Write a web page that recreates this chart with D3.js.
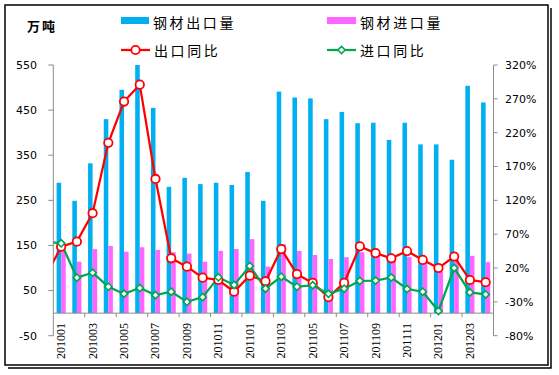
<!DOCTYPE html>
<html>
<head>
<meta charset="utf-8">
<script src="https://cdn.jsdelivr.net/npm/d3@7/dist/d3.min.js"></script>
<style>
  html, body { margin: 0; padding: 0; background: #fff; }
  svg { display: block; }
</style>
</head>
<body>
<svg id="chart" width="559" height="375"></svg>
<script>
// ---- data ----
const categories = ["201001","201002","201003","201004","201005","201006","201007","201008","201009","201010","201011","201012",
                    "201101","201102","201103","201104","201105","201106","201107","201108","201109","201110","201111","201112",
                    "201201","201202","201203","201204"];
const exportVolume = [289,249,332,430,495,550,455,280,300,286,289,284,313,249,491,478,476,430,446,421,422,384,422,374,374,340,504,467];
const importVolume = [140,114,142,149,136,146,140,135,132,114,138,142,164,103,153,138,129,120,124,135,131,125,124,114,92,118,127,113];
const exportYoY = [51.5,59,101,205,266,291,151.6,34.4,22,5.8,2.3,-15,8.7,0.4,48,11,-2,-23,-2,52,42,34.4,45,32,20,37,2.3,-1];
const importYoY = [56.5,5.8,13,-7.6,-18,-9.5,-20,-15,-30,-23,6.3,-5,23,-10.5,7.2,-7.6,-5.5,-18,-10.5,1,1.5,6,-11,-15,-43.5,20,-16,-19];
const exportYoYPrev = 7;     // value before the first shown month (line enters from left edge)
const importYoYPrev = 59.5;
const leftTicks = [-50,50,150,250,350,450,550];
const rightTicks = [-80,-30,20,70,120,170,220,270,320];
const labels = {
  unit: "万吨",
  exportVol: "钢材出口量",
  importVol: "钢材进口量",
  exportYoY: "出口同比",
  importYoY: "进口同比"
};

// ---- layout ----
const svg = d3.select("#chart");
const plotL = 53.3, plotR = 493.5, plotT = 65, plotB = 335.7;
const colors = { blue: "#00B0F0", pink: "#FF66FF", red: "#FF0000", green: "#00A650", axis: "#8C8C8C" };

const x = d3.scaleBand().domain(categories).range([plotL, plotR]).paddingInner(0).paddingOuter(0);
const step = x.bandwidth();
const yL = d3.scaleLinear().domain([-50, 550]).range([plotB, plotT]);
const yR = d3.scaleLinear().domain([-80, 320]).range([plotB, plotT]);
const cx = c => x(c) + step / 2;
const barW = step * 0.29;

// frame
svg.append("rect").attr("x", 0).attr("y", 0).attr("width", 559).attr("height", 375).attr("fill", "#fff");
svg.append("rect").attr("x", 5).attr("y", 5).attr("width", 543).attr("height", 360)
  .attr("fill", "none").attr("stroke", "#000").attr("stroke-width", 1.5);
svg.append("path").attr("d", "M551,8 V368 H8").attr("fill", "none").attr("stroke", "#000").attr("stroke-width", 1.5);

// clip
svg.append("clipPath").attr("id", "plotclip").append("rect")
  .attr("x", plotL).attr("y", plotT - 10).attr("width", plotR - plotL).attr("height", plotB - plotT + 20);

const y0 = yL(0);

// bars
const g = svg.append("g");
g.selectAll("rect.exp").data(categories).join("rect")
  .attr("x", (c) => cx(c) - barW)
  .attr("y", (c, i) => yL(exportVolume[i]))
  .attr("width", barW)
  .attr("height", (c, i) => y0 - yL(exportVolume[i]))
  .attr("fill", colors.blue);
g.selectAll("rect.imp").data(categories).join("rect")
  .attr("x", (c) => cx(c))
  .attr("y", (c, i) => yL(importVolume[i]))
  .attr("width", barW)
  .attr("height", (c, i) => y0 - yL(importVolume[i]))
  .attr("fill", colors.pink);

// axes
const axG = svg.append("g").attr("stroke", colors.axis).attr("stroke-width", 1).attr("fill", "none");
axG.append("line").attr("x1", plotL).attr("x2", plotL).attr("y1", plotT).attr("y2", plotB);
axG.append("line").attr("x1", plotR).attr("x2", plotR).attr("y1", plotT).attr("y2", plotB);
axG.append("line").attr("x1", plotL).attr("x2", plotR).attr("y1", y0).attr("y2", y0);
leftTicks.forEach(t => axG.append("line").attr("x1", plotL - 5).attr("x2", plotL).attr("y1", yL(t)).attr("y2", yL(t)));
rightTicks.forEach(t => axG.append("line").attr("x1", plotR).attr("x2", plotR + 4).attr("y1", yR(t)).attr("y2", yR(t)));
categories.forEach((c, i) => {
  if (i % 2 === 0 && i > 0) axG.append("line").attr("x1", x(c)).attr("x2", x(c)).attr("y1", y0).attr("y2", y0 + 4);
});

const tickFont = "'DejaVu Sans', Verdana, sans-serif";
svg.append("g").selectAll("text").data(leftTicks).join("text")
  .attr("x", 37).attr("y", d => yL(d)).attr("dy", "0.35em")
  .attr("text-anchor", "end").attr("font-family", tickFont).attr("font-size", 11).attr("fill", "#000")
  .text(d => d);
svg.append("g").selectAll("text").data(rightTicks).join("text")
  .attr("x", 505).attr("y", d => yR(d)).attr("dy", "0.35em")
  .attr("text-anchor", "start").attr("font-family", tickFont).attr("font-size", 11).attr("fill", "#000")
  .text(d => d + "%");
svg.append("g").selectAll("text").data(categories.filter((c, i) => i % 2 === 0)).join("text")
  .attr("transform", c => `translate(${cx(c) + 4},323) rotate(-90)`)
  .attr("text-anchor", "end").attr("font-family", "'Liberation Serif', 'Times New Roman', serif")
  .attr("font-size", 12).attr("fill", "#000")
  .text(c => c);

// lines
const lineG = svg.append("g").attr("clip-path", "url(#plotclip)");
function drawLine(vals, prev, color) {
  const pts = [[cx(categories[0]) - step, yR(prev)]].concat(vals.map((v, i) => [cx(categories[i]), yR(v)]));
  lineG.append("path").attr("d", d3.line()(pts)).attr("fill", "none").attr("stroke", color).attr("stroke-width", 2.25);
}
drawLine(exportYoY, exportYoYPrev, colors.red);
const mk = svg.append("g");
mk.selectAll("circle").data(exportYoY).join("circle")
  .attr("cx", (v, i) => cx(categories[i])).attr("cy", v => yR(v)).attr("r", 4.2)
  .attr("fill", "#fff").attr("stroke", colors.red).attr("stroke-width", 1.8);
drawLine(importYoY, importYoYPrev, colors.green);
const diamond = d3.symbol().type(d3.symbolDiamond2 || d3.symbolDiamond).size(34);
const mk2 = svg.append("g");
mk2.selectAll("path").data(importYoY).join("path")
  .attr("transform", (v, i) => `translate(${cx(categories[i])},${yR(v)})`)
  .attr("d", diamond)
  .attr("fill", "#fff").attr("stroke", colors.green).attr("stroke-width", 1.6);

// legend + unit
const cjk = "'Noto Sans CJK SC', sans-serif";
svg.append("text").attr("x", 27).attr("y", 31).attr("font-family", cjk).attr("font-size", 13)
  .attr("font-weight", "bold").attr("letter-spacing", 2).attr("fill", "#000").text(labels.unit);

const leg = svg.append("g").attr("font-family", cjk).attr("font-size", 14).attr("fill", "#000");
leg.append("rect").attr("x", 121).attr("y", 17).attr("width", 28).attr("height", 7).attr("fill", colors.blue);
leg.append("text").attr("x", 153).attr("y", 27.5).attr("letter-spacing", 2.6).text(labels.exportVol);
leg.append("rect").attr("x", 327).attr("y", 17).attr("width", 29).attr("height", 7).attr("fill", colors.pink);
leg.append("text").attr("x", 360).attr("y", 27.5).attr("letter-spacing", 2.6).text(labels.importVol);

leg.append("line").attr("x1", 121).attr("x2", 150).attr("y1", 50).attr("y2", 50).attr("stroke", colors.red).attr("stroke-width", 2.25);
leg.append("circle").attr("cx", 135.5).attr("cy", 50).attr("r", 4.2).attr("fill", "#fff").attr("stroke", colors.red).attr("stroke-width", 1.8);
leg.append("text").attr("x", 154).attr("y", 55.5).attr("letter-spacing", 2.6).text(labels.exportYoY);
leg.append("line").attr("x1", 327).attr("x2", 356).attr("y1", 50).attr("y2", 50).attr("stroke", colors.green).attr("stroke-width", 2.25);
leg.append("path").attr("transform", "translate(341.5,50)").attr("d", diamond).attr("fill", "#fff").attr("stroke", colors.green).attr("stroke-width", 1.6);
leg.append("text").attr("x", 360).attr("y", 55.5).attr("letter-spacing", 2.6).text(labels.importYoY);
</script>
</body>
</html>
